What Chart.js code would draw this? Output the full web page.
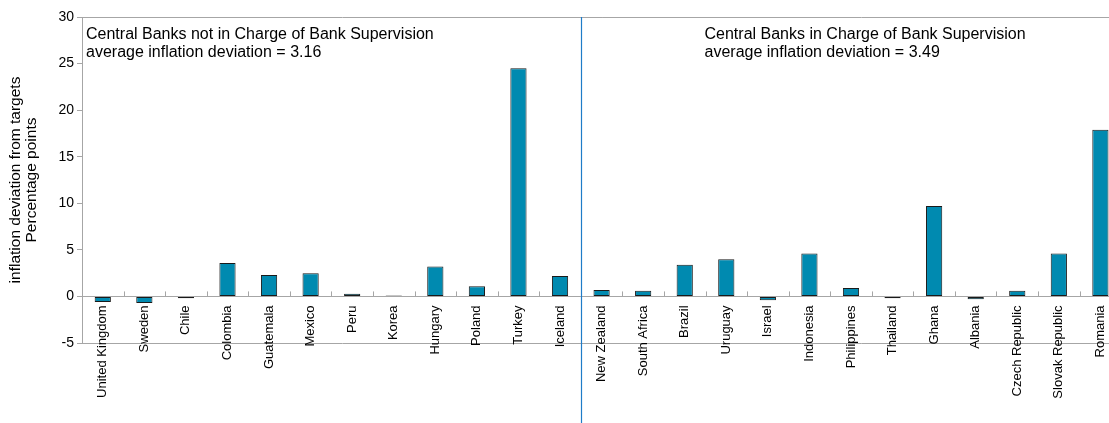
<!DOCTYPE html>
<html>
<head>
<meta charset="utf-8">
<script src="https://cdn.jsdelivr.net/npm/chart.js@4"></script>
<style>
html,body{margin:0;padding:0;overflow:hidden;background:#fff;}
#wrap{position:relative;width:1125px;height:423px;}
</style>
</head>
<body>
<div id="wrap"><canvas id="c"></canvas></div>
<script>
const categories = ["United Kingdom","Sweden","Chile","Colombia","Guatemala","Mexico","Peru","Korea","Hungary","Poland","Turkey","Iceland",
  "New Zealand","South Africa","Brazil","Uruguay","Israel","Indonesia","Philippines","Thailand","Ghana","Albania","Czech Republic","Slovak Republic","Romania"];
const deviation = [-0.6,-0.7,-0.2,3.6,2.3,2.5,0.3,0.1,3.2,1.1,24.5,2.2,
  0.7,0.6,3.4,4.0,-0.4,4.6,0.9,-0.2,9.7,-0.3,0.6,4.6,17.9];
const groupSizes = [12,13];
const groupNotes = [
  ["Central Banks not in Charge of Bank Supervision","average inflation deviation = 3.16"],
  ["Central Banks in Charge of Bank Supervision","average inflation deviation = 3.49"]
];
const yTitle = ["inflation deviation from targets","Percentage points"];
const yMin = -5, yMax = 30, yStep = 5;

const AXIS = '#a6a6a6';
const SANS = "'Liberation Sans', Arial, sans-serif";

const extras = {
  id:'extras',
  afterDatasetsDraw(chart){
    const {ctx, chartArea, scales:{x,y}} = chart;
    const y0 = y.getPixelForValue(0);
    ctx.save();
    ctx.strokeStyle = AXIS; ctx.lineWidth = 1;
    for(let i=1;i<categories.length;i++){
      const px = Math.round((x.getPixelForValue(i-1)+x.getPixelForValue(i))/2)+0.5;
      ctx.beginPath(); ctx.moveTo(px,y0); ctx.lineTo(px,y0-5); ctx.stroke();
    }
    const b = groupSizes[0];
    const sx = Math.round((x.getPixelForValue(b-1)+x.getPixelForValue(b))/2)+0.5;
    ctx.strokeStyle = '#1f7cc8';
    ctx.lineWidth = 1.2;
    ctx.beginPath(); ctx.moveTo(sx, chartArea.top); ctx.lineTo(sx, chart.height); ctx.stroke();
    ctx.fillStyle = '#000';
    ctx.font = "16px " + SANS;
    ctx.textBaseline = 'middle';
    ctx.textAlign = 'left';
    const lx = chartArea.left + 4;
    const rx = (x.getPixelForValue(14)+x.getPixelForValue(15))/2 - 1;
    [lx, rx].forEach((px, g) => {
      groupNotes[g].forEach((t, k) => ctx.fillText(t, px, chartArea.top + 18 + k*18));
    });
    ctx.restore();
  }
};

new Chart(document.getElementById('c'), {
  type:'bar',
  data:{
    labels: categories,
    datasets:[{
      data: deviation,
      backgroundColor:'#008AB0',
      borderColor:'#1a1a1a',
      borderWidth:1,
      borderSkipped:false,
      barPercentage:0.39,
      categoryPercentage:1
    }]
  },
  options:{
    responsive:true,
    maintainAspectRatio:false,
    animation:false,
    layout:{padding:{top:17,left:0,right:0,bottom:80}},
    plugins:{legend:{display:false},tooltip:{enabled:false}},
    scales:{
      x:{
        position:{y:0},
        offset:true,
        grid:{display:false, drawTicks:false},
        border:{display:true,color:AXIS},
        ticks:{autoSkip:false,maxRotation:90,minRotation:90,padding:9,color:'#000',font:{family:SANS,size:13}}
      },
      y:{
        min:yMin,max:yMax,
        ticks:{stepSize:yStep,padding:3,color:'#000',font:{family:"'Liberation Sans Narrow', 'Liberation Sans', Arial, sans-serif",size:14}},
        grid:{
          color: c => (c.tick && (c.tick.value===yMax || c.tick.value===yMin)) ? AXIS : 'rgba(0,0,0,0)',
          tickColor:AXIS, tickLength:5, drawTicks:true
        },
        border:{display:true,color:AXIS},
        title:{display:true,text:yTitle,color:'#000',font:{family:SANS,size:15.5,lineHeight:1.03},padding:{top:8,bottom:0}},
        afterFit(s){ s.width = 82; }
      }
    }
  },
  plugins:[extras]
});
</script>
</body>
</html>
